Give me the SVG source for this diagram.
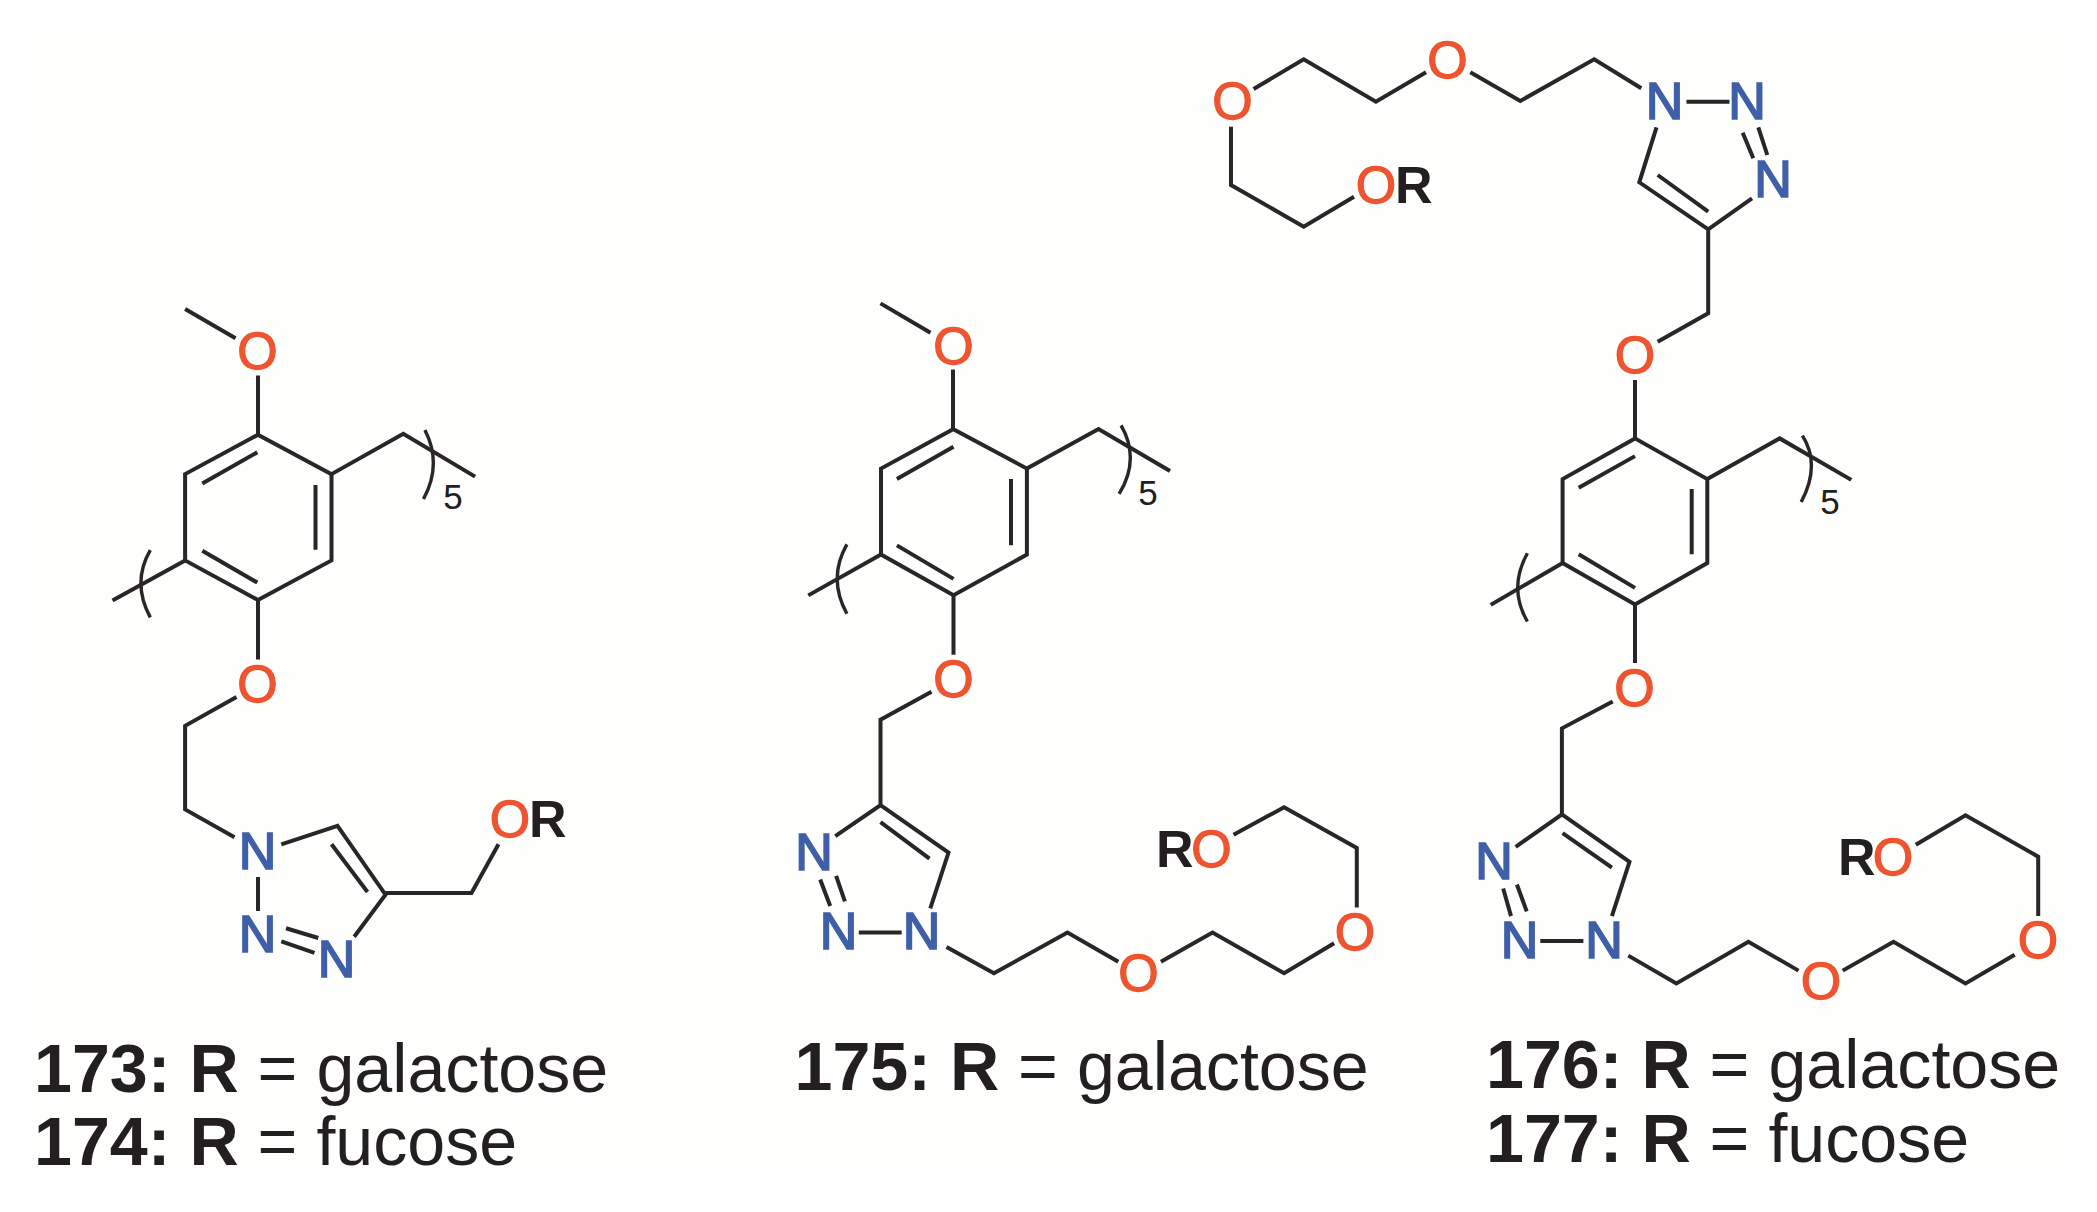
<svg xmlns="http://www.w3.org/2000/svg" width="2097" height="1212" viewBox="0 0 2097 1212">
<style>
.b{fill:none;stroke:#2a2627;stroke-width:4;stroke-linejoin:miter;stroke-linecap:butt}
.p{fill:none;stroke:#2a2627;stroke-width:3.4}
text{font-family:"Liberation Sans",Arial,sans-serif}
.O,.N,.R{font-size:52px;text-anchor:middle}
.O{fill:#ee5430;stroke:#ee5430;stroke-width:1.3}
.N{fill:#3f5fa8;stroke:#3f5fa8;stroke-width:1.7}
.R{fill:#231f20;font-weight:700;text-anchor:start}
.s{font-size:35px;fill:#231f20;text-anchor:middle}
.l{font-size:68.2px;fill:#231f20}
.l tspan{font-weight:700}
</style>
<rect width="2097" height="1212" fill="#ffffff"/>
<rect x="27" y="31" width="2046" height="1146" fill="#fefefd"/>
<g id="bonds">
<g id="bonds-173" transform="translate(-1.5 1.5) scale(1 .995)">
<path class="b" d="M186.6 309L237 338.5M259.5 376V435.4L333 475V561.7L259.5 601.5L186.6 561.7V475L259.5 435.4M203.8 484.5L258.8 453M317 486V551M203.8 552L258.8 584"/>
<path class="b" d="M333 475L404.8 434.4L476.6 477.5M186.6 561.7L114 602M259.5 601.5V661.4M238 699L186.6 728V812L236 840M259.5 880V914M287.5 931.4L319.8 941.2M282.8 944.5L316 956.2M355.7 940L387 897.7L339 828.4L282.8 847M369 895L333 847M387 896H473L500 847"/>
<path class="p" d="M426.4 430.7Q444 465 425 500M151.8 551.4Q133 584 151.8 619"/>
</g>
<g id="bonds-175" transform="translate(-1.5 1.65) scale(1 .9945)">
<path class="b" d="M882 303.4L932 333M954.5 370V429.7L1028.4 469.5V556L955 596.8L882.5 556V469.5L955 429.7M898.4 480L955 447.5M1012.5 480V546.7M898.4 546.7L955 580.4"/>
<path class="b" d="M1028.4 469.5L1100 429.7L1171.5 471.9M882.5 556L809.8 597M955 596.8V656.7M933 694L882 722V808L836.8 839M882 808L950 855.6L931.8 911.7M882 825L931 861.7M860.3 936H903.2M821.7 882.7L831.7 909.4M837.6 879L846.4 904.7"/>
<path class="b" d="M948 950.6L995.4 977L1069 936L1119.8 965.5M1162.4 965.5L1214 936L1285.6 977L1335.6 946.8M1358.3 910.8V851L1285.6 810L1235 837.8"/>
<path class="p" d="M1122.6 426Q1142 460 1120.6 495M848.4 545.8Q829 580 848.4 615.5"/>
</g>
<g id="bonds-176-top" transform="translate(-2 0)">
<path class="b" d="M1255.6 89L1305.7 59.3L1377.9 101.7L1428 72.3M1472.3 72.3L1522.3 101L1596.2 59.3L1643.3 88.3M1688.5 101.7H1731.5M1744.7 132.7L1755.3 158.3M1760.3 127.3L1769.3 155M1754 198.3L1710.2 229.3L1641.3 182.3L1658.5 127.3M1710.2 211.7L1659.7 175M1710.2 229.3V313.3L1659.7 341.7M1233 126.7V185L1305.7 226.7L1356 196.7"/>
</g>
<g id="bonds-176-low" transform="translate(-2 2) scale(1 .995)">
<path class="b" d="M1637 380V438.6L1709.3 479.5V563.8L1637 605.5L1564.6 563.8V479.5L1637 438.6M1580.7 488.2L1637 456.4M1693.7 489.4V555M1580.7 555L1637 588.8"/>
<path class="b" d="M1709.3 479.5L1781.7 438.6L1853.3 480.3M1564.6 563.8L1492.7 605.9M1637 605.5V664.3M1614.7 702.9L1563.9 730V816.5L1517.7 849M1563.9 816.5L1631.5 864.2L1613.9 918.7M1564.6 835.2L1613.9 870M1542.3 943.7H1585.4M1505.2 890.9L1513 918.7M1518.9 886.9L1528.7 913.9"/>
<path class="b" d="M1630.3 958.4L1678.4 986.3L1750.4 944.5L1800.5 973.5M1844.7 973.5L1895.5 944.5L1967.5 986.3L2016.7 957.6M2040.2 918.7V859L1967.5 817.3L1917.8 847"/>
<path class="p" d="M1804.4 435.8Q1823 465 1803.2 502.5M1529.4 554Q1510 589 1529.4 622.6"/>
</g>
</g>
<g id="mol-173">
<g id="a173-O1"><text class="O" x="257.5" y="369">O</text></g>
<g id="a173-O2"><text class="O" x="257.5" y="702">O</text></g>
<g id="a173-N1"><text class="N" x="257.5" y="869">N</text></g>
<g id="a173-N2"><text class="N" x="257.5" y="952">N</text></g>
<g id="a173-N3"><text class="N" x="336.5" y="977">N</text></g>
<g id="a173-OR"><text class="O" x="510" y="837">O</text><text class="R" x="529" y="837">R</text></g>
<g id="a173-5"><text class="s" x="453" y="509">5</text></g>
</g>
<g id="mol-175">
<g id="a175-O1"><text class="O" x="953.5" y="364">O</text></g>
<g id="a175-O2"><text class="O" x="953.5" y="697">O</text></g>
<g id="a175-N1"><text class="N" x="921.5" y="949">N</text></g>
<g id="a175-N2"><text class="N" x="838.5" y="949">N</text></g>
<g id="a175-N3"><text class="N" x="814" y="870">N</text></g>
<g id="a175-O3"><text class="O" x="1138.5" y="991">O</text></g>
<g id="a175-O4"><text class="O" x="1355" y="950">O</text></g>
<g id="a175-OR"><text class="R" x="1156" y="867">R</text><text class="O" x="1211.5" y="867">O</text></g>
<g id="a175-5"><text class="s" x="1148" y="505">5</text></g>
</g>
<g id="mol-176">
<g id="a176-O1"><text class="O" x="1232.5" y="119">O</text></g>
<g id="a176-O2"><text class="O" x="1447.5" y="78">O</text></g>
<g id="a176-N1"><text class="N" x="1664.5" y="119">N</text></g>
<g id="a176-N2"><text class="N" x="1747" y="119">N</text></g>
<g id="a176-N3"><text class="N" x="1773" y="197">N</text></g>
<g id="a176-OR1"><text class="O" x="1376" y="203">O</text><text class="R" x="1395" y="203">R</text></g>
<g id="a176-O3"><text class="O" x="1635" y="373">O</text></g>
<g id="a176-O4"><text class="O" x="1634.5" y="706">O</text></g>
<g id="a176-N4"><text class="N" x="1494" y="879">N</text></g>
<g id="a176-N5"><text class="N" x="1519.5" y="958">N</text></g>
<g id="a176-N6"><text class="N" x="1604" y="958">N</text></g>
<g id="a176-O5"><text class="O" x="1821" y="999">O</text></g>
<g id="a176-O6"><text class="O" x="2038" y="958">O</text></g>
<g id="a176-OR2"><text class="R" x="1838" y="875">R</text><text class="O" x="1893" y="875">O</text></g>
<g id="a176-5"><text class="s" x="1830" y="514">5</text></g>
</g>
<g id="labels">
<text class="l" x="34" y="1092"><tspan>173: R</tspan> = galactose</text>
<text class="l" x="34" y="1165"><tspan>174: R</tspan> = fucose</text>
<text class="l" x="794.5" y="1090"><tspan>175: R</tspan> = galactose</text>
<text class="l" x="1486" y="1088"><tspan>176: R</tspan> = galactose</text>
<text class="l" x="1486" y="1162"><tspan>177: R</tspan> = fucose</text>
</g>
</svg>
